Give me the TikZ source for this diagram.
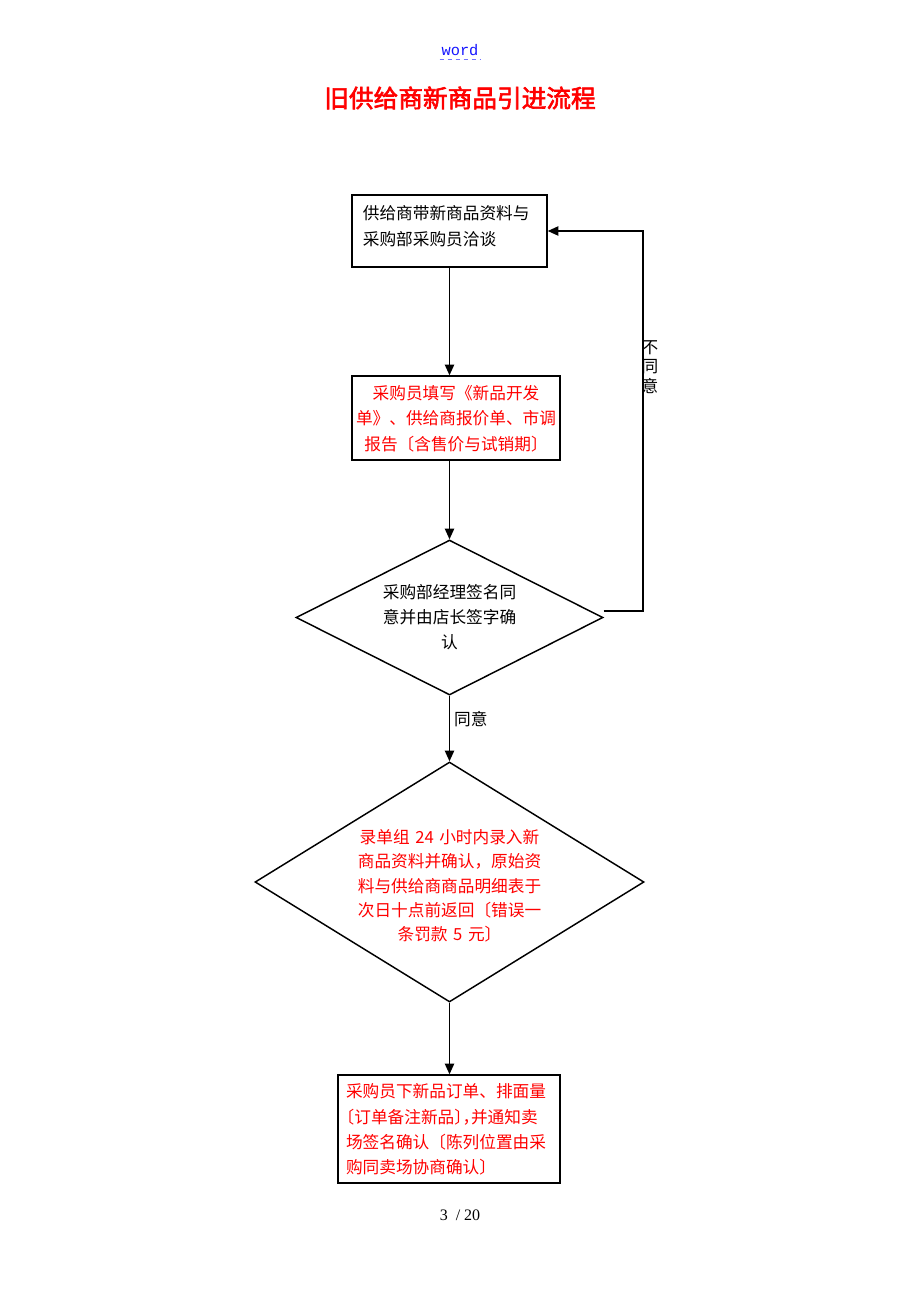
\documentclass[tikz,border=0pt]{standalone}
\usepackage{fontspec}
\setmainfont{Liberation Serif}
\newfontfamily\cjk[AutoFakeBold=2.5]{Noto Sans CJK SC}
\newfontfamily\cjkhalt[RawFeature=+halt]{Noto Sans CJK SC}
\newfontfamily\wordfont{Liberation Mono}
\usetikzlibrary{shapes.geometric,arrows.meta}
\definecolor{titlered}{RGB}{255,0,0}
\definecolor{wordblue}{RGB}{20,20,255}
\tikzset{
  stepbox/.style={draw, rectangle, inner sep=0pt},
  checkbox/.style={draw, diamond, inner sep=0pt},
  steptext/.style={inner sep=0pt, align=center},
  flow/.style={-{Triangle[length=8pt,width=7pt]}},
}
\begin{document}
\begin{tikzpicture}
[x=0.75pt, y=-0.75pt, line width=1.1pt,
 every node/.style={font=\cjk\fontsize{12.5}{19}\selectfont}]
\useasboundingbox (0,0) rectangle (920,1302);

\node[inner sep=1pt, text=wordblue, font=\wordfont\fontsize{11.5}{13}\selectfont] (wordlink) at (460,50) {word};
\draw[wordblue!60, dashed, line width=0.8pt] ([yshift=-1pt]wordlink.south west) -- ([yshift=-1pt]wordlink.south east);
\node[text=titlered, font=\cjk\bfseries\fontsize{18.5}{22}\selectfont] (title) at (460,98) {旧供给商新商品引进流程};

\node[stepbox, minimum width=146.25pt, minimum height=54pt] (talk) at (449.5,231) {}; %talk
\node[steptext, align=left, text width=130pt] (talktext) at (449.5,226) {供给商带新商品资料与\\采购部采购员洽谈};

\node[stepbox, minimum width=156pt, minimum height=63pt] (form) at (456,418) {}; %forms
\node[steptext, text=red, text width=150pt] (formtext) at (456,418.5) {采购员填写《新品开发\\单》、供给商报价单、市调\\报告〔含售价与试销期〕};

\node[checkbox, minimum width=230.25pt, minimum height=116.25pt] (sign) at (449.5,617.5) {}; %sign off
\node[steptext, text width=140pt] (signtext) at (449.5,617) {采购部经理签名同\\意并由店长签字确\\认};

\node[checkbox, minimum width=291.75pt, minimum height=180pt] (entry) at (449.5,882) {}; %data entry
\node[steptext, text=red, text width=150pt, font=\cjk\fontsize{12.5}{18.2}\selectfont] (entrytext) at (449.5,886) {录单组 24 小时内录入新\\商品资料并确认，原始资\\料与供给商商品明细表于\\次日十点前返回〔错误一\\条罚款 5 元〕};

\node[stepbox, minimum width=166.5pt, minimum height=81pt] (order) at (449,1129) {}; %order
\node[steptext, align=left, text=red, text width=156pt] (ordertext) at (450,1129.5) {采购员下新品订单、排面量\\{\cjkhalt 〔订单备注新品〕，并通知卖}\\场签名确认〔陈列位置由采\\购同卖场协商确认〕};

\draw[flow] (talk.south) -- (talk.south |- form.north);
\draw[flow] (talk.south |- form.south) -- (sign.north);
\draw[flow] (sign.south) -- (entry.north) node[pos=0.35, anchor=west, inner sep=3pt] (yes) {同意};
\draw[flow] (entry.south) -- (entry.south |- order.north);

\coordinate (back) at (643,231);
\draw[flow] ([yshift=5pt]sign.east) -| (back) -- (talk.east); %refused
\node[steptext, font=\cjk\fontsize{12.5}{14.5}\selectfont] (no) at (650,367) {不\\同\\意};

\node[font=\fontsize{12}{14}\selectfont] (page) at (460,1215) {3 \ / 20};

\end{tikzpicture}
\end{document}
